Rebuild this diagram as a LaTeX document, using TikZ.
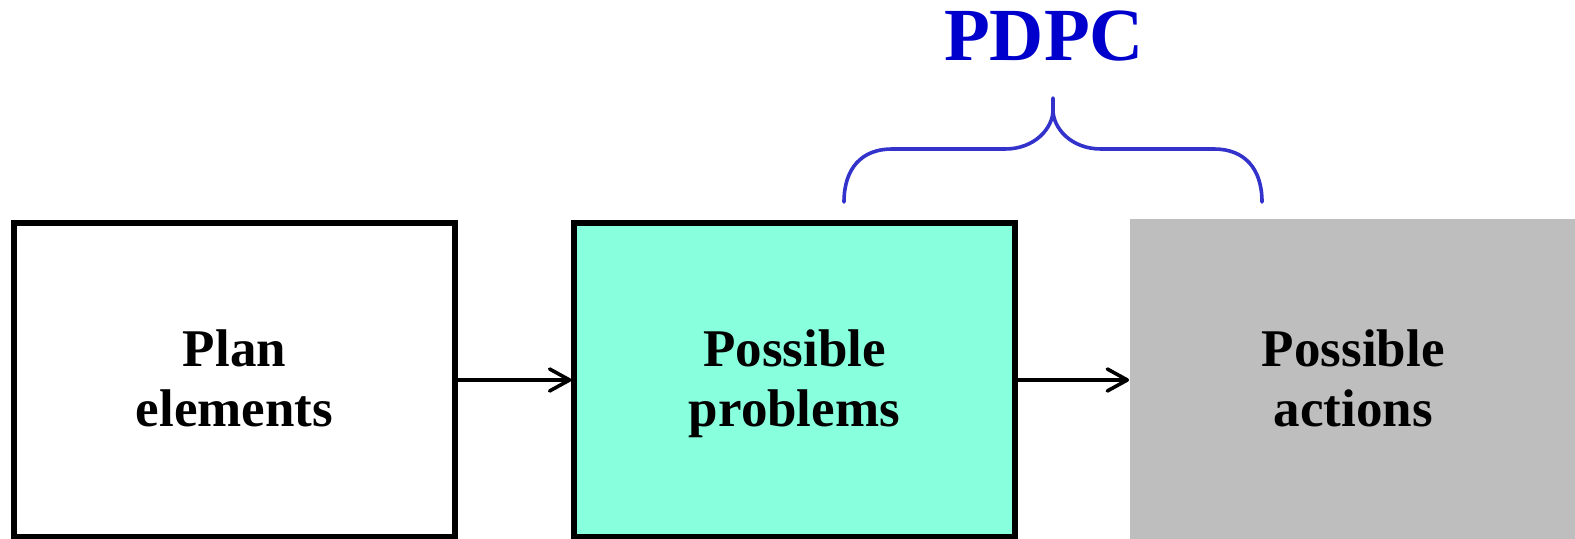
\documentclass[tikz,border=0pt]{standalone}
\usepackage{fontspec}
\setmainfont{Liberation Serif}
\usetikzlibrary{arrows.meta}
\definecolor{aqua}{RGB}{136,255,221}
\definecolor{boxgray}{RGB}{190,190,190}
\definecolor{bracecol}{RGB}{51,51,204}
\definecolor{titleblue}{RGB}{0,0,204}
\newcommand{\twoln}[2]{\rule{0pt}{21pt}\smash{#1}\\\rule[-4pt]{0pt}{4pt}\smash{#2}}
\tikzset{
  stepbox/.style={rectangle, minimum width=220.5pt, minimum height=157pt, inner sep=0pt,
    align=center, font=\fontsize{26.5pt}{30pt}\selectfont\bfseries},
  framed/.style={draw=black, line width=2.6pt},
  flow/.style={draw=black, line width=1.8pt, -{Straight Barb[length=10pt,width=11pt,line width=1.8pt,round]}},
  bracestyle/.style={draw=bracecol, line width=1.8pt, line cap=round}
}
\begin{document}
\begin{tikzpicture}[x=0.5pt,y=-0.5pt]
\useasboundingbox (0,0) rectangle (1575,539);
\node[stepbox, framed, fill=white] (plan) at (234.5,380) {\twoln{Plan}{elements}};
\node[stepbox, framed, fill=aqua] (prob) at (794.5,380) {\twoln{Possible}{problems}};
\node[stepbox, fill=boxgray, minimum width=223.75pt, minimum height=161pt] (act) at (1353.25,380) {\twoln{Possible}{actions}};
\draw[flow] (plan.east) -- (prob.west);
\draw[flow] (prob.east) -- (act.west);
\draw[bracestyle] (844,202) .. controls (844,168) and (862,149) .. (892,149) -- (1005,149)
  .. controls (1035,149) and (1053,128) .. (1053,110) -- (1053,98);
\draw[bracestyle] (1053,110) .. controls (1053,128) and (1071,149) .. (1101,149) -- (1214,149)
  .. controls (1244,149) and (1262,168) .. (1262,202);
\node[anchor=base, inner sep=0pt, text=titleblue, font=\fontsize{37.5pt}{40pt}\selectfont\bfseries] (title) at (1044,61) {PDPC};
\end{tikzpicture}
\end{document}
